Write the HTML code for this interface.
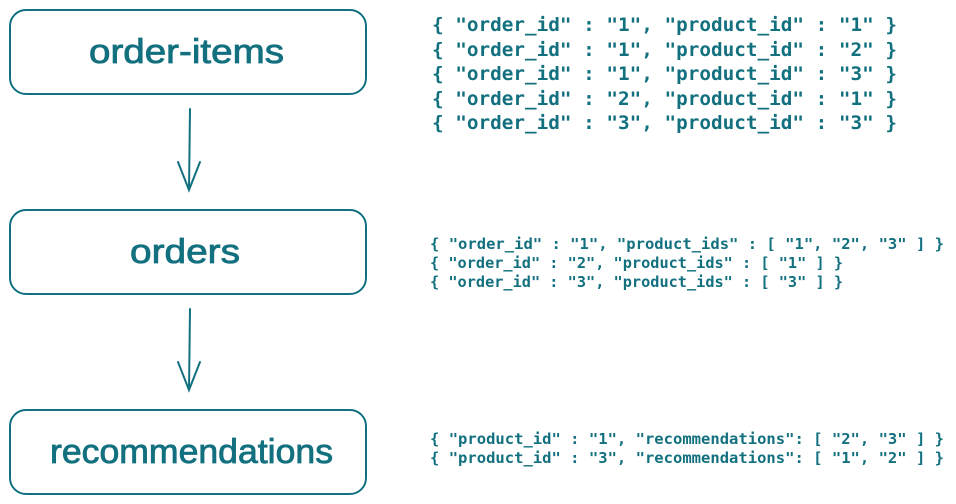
<!DOCTYPE html>
<html><head><meta charset="utf-8"><style>
html,body{margin:0;padding:0;background:#fff;width:956px;height:504px;overflow:hidden}
svg text{fill:#12707f}
.m1{font-family:"DejaVu Sans Mono","Liberation Mono",monospace;font-weight:bold;font-size:19px}
.m2{font-family:"DejaVu Sans Mono","Liberation Mono",monospace;font-weight:bold;font-size:15.5px}
.h{font-family:"Liberation Sans",sans-serif;font-size:34px;stroke:#12707f;stroke-width:0.8}
</style></head><body>
<svg width="956" height="504" xmlns="http://www.w3.org/2000/svg">
<g fill="none" stroke="#12707f" stroke-width="2" stroke-linecap="round">
<rect x="10" y="10" width="356" height="84" rx="16"/>
<rect x="10" y="210" width="356" height="84" rx="16"/>
<rect x="10" y="410" width="356" height="84" rx="16"/>
<path d="M190 109 L189 190 M178 162 L189 190 L200 162"/>
<path d="M190 309 L189 390 M178 362 L189 390 L200 362"/>
</g>
<text class="h" x="89" y="63" textLength="195" lengthAdjust="spacingAndGlyphs">order-items</text>
<text class="h" x="130" y="263" textLength="110" lengthAdjust="spacingAndGlyphs">orders</text>
<text class="h" x="50" y="463" textLength="283" lengthAdjust="spacingAndGlyphs">recommendations</text>
<g class="m1">
<text x="432" y="31" textLength="465" lengthAdjust="spacingAndGlyphs">{ "order_id" : "1", "product_id" : "1" }</text>
<text x="432" y="56" textLength="465" lengthAdjust="spacingAndGlyphs">{ "order_id" : "1", "product_id" : "2" }</text>
<text x="432" y="80" textLength="465" lengthAdjust="spacingAndGlyphs">{ "order_id" : "1", "product_id" : "3" }</text>
<text x="432" y="105" textLength="465" lengthAdjust="spacingAndGlyphs">{ "order_id" : "2", "product_id" : "1" }</text>
<text x="432" y="129" textLength="465" lengthAdjust="spacingAndGlyphs">{ "order_id" : "3", "product_id" : "3" }</text>
</g>
<g class="m2">
<text x="430" y="249" textLength="514" lengthAdjust="spacingAndGlyphs">{ "order_id" : "1", "product_ids" : [ "1", "2", "3" ] }</text>
<text x="430" y="268" textLength="413" lengthAdjust="spacingAndGlyphs">{ "order_id" : "2", "product_ids" : [ "1" ] }</text>
<text x="430" y="287" textLength="413" lengthAdjust="spacingAndGlyphs">{ "order_id" : "3", "product_ids" : [ "3" ] }</text>
<text x="430" y="444" textLength="514" lengthAdjust="spacingAndGlyphs">{ "product_id" : "1", "recommendations": [ "2", "3" ] }</text>
<text x="430" y="463" textLength="514" lengthAdjust="spacingAndGlyphs">{ "product_id" : "3", "recommendations": [ "1", "2" ] }</text>
</g>
</svg>
</body></html>
